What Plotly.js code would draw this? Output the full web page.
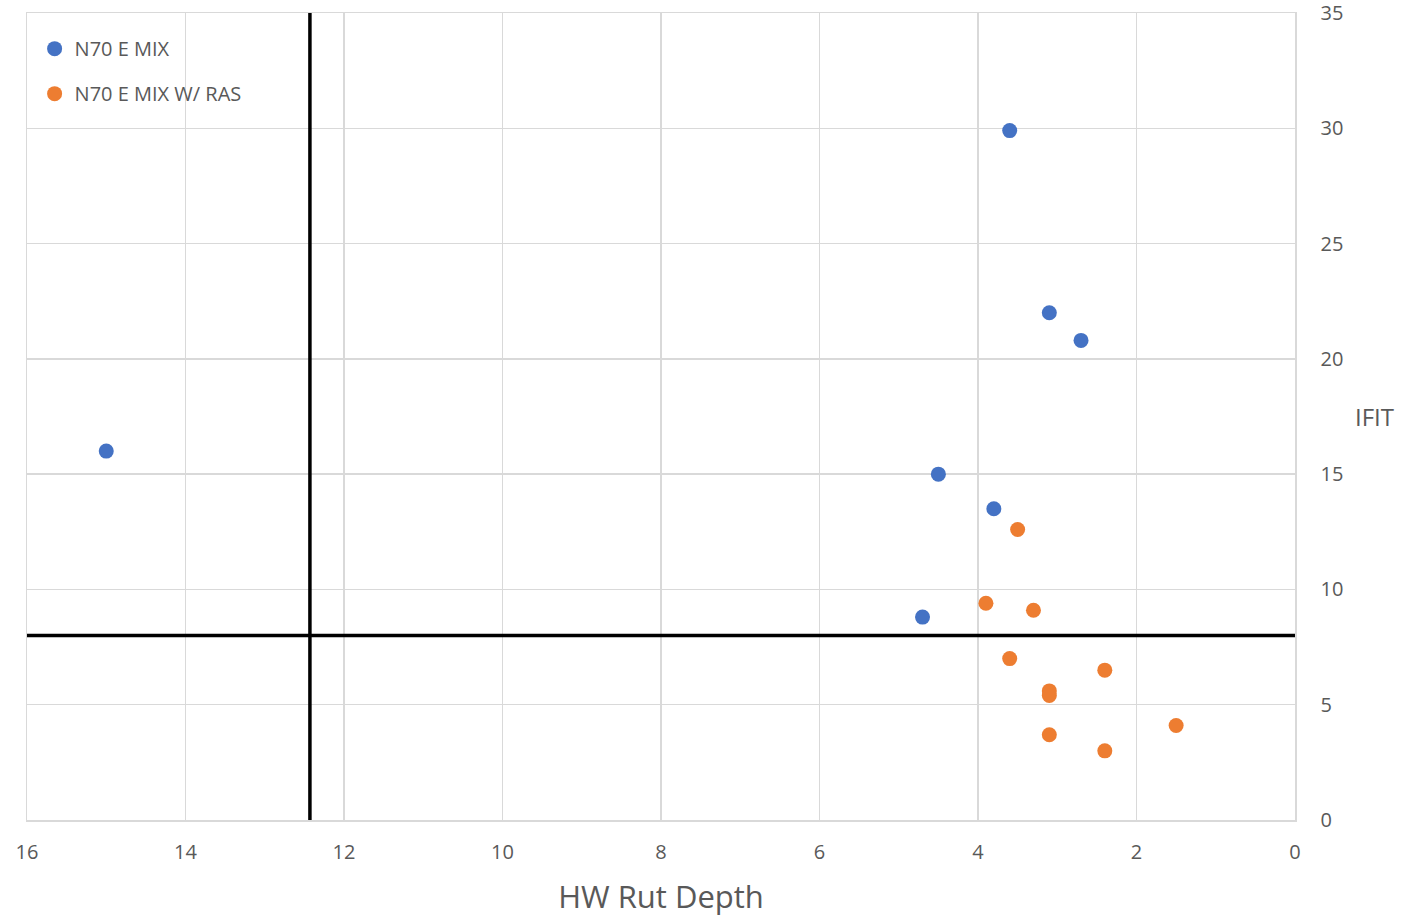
<!DOCTYPE html>
<html>
<head>
<meta charset="utf-8">
<script src="https://cdn.plot.ly/plotly-3.0.1.min.js"></script>
<style>html,body{margin:0;padding:0;background:#fff;}#chart{width:1404px;height:919px;}</style>
</head>
<body>
<div id="chart"></div>
<script>
var seriesNames = ["N70 E MIX", "N70 E MIX W/ RAS"];
var mixRut = [3.6, 3.1, 2.7, 15.0, 4.5, 3.8, 4.7];
var mixIfit = [29.9, 22.0, 20.8, 16.0, 15.0, 13.5, 8.8];
var rasRut = [3.5, 3.9, 3.3, 3.6, 2.4, 3.1, 3.1, 1.5, 3.1, 2.4];
var rasIfit = [12.6, 9.4, 9.1, 7.0, 6.5, 5.6, 5.4, 4.1, 3.7, 3.0];
var rutLimit = [12.43];
var ifitLimit = [8];
var xTicks = [16, 14, 12, 10, 8, 6, 4, 2, 0];
var yTicks = [0, 5, 10, 15, 20, 25, 30, 35];

var font = "Open Sans, Lato, sans-serif";
var grey = "#595959";

var traces = [
  {x: mixRut, y: mixIfit, name: seriesNames[0], legendgroup: "a", type: "scatter", mode: "markers",
   marker: {color: "#4472C4", size: 15}},
  {x: rasRut, y: rasIfit, name: seriesNames[1], legendgroup: "b", type: "scatter", mode: "markers",
   marker: {color: "#ED7D31", size: 15}}
];

var layout = {
  width: 1404, height: 919,
  margin: {l: 27, r: 109, t: 13, b: 99},
  paper_bgcolor: "#fff", plot_bgcolor: "#fff",
  font: {family: font, color: grey, size: 19},
  showlegend: true,
  legend: {x: 0.006, y: 0.98, xanchor: "left", yanchor: "top", bgcolor: "rgba(255,255,255,0)",
           font: {size: 20, color: grey}, tracegroupgap: 16, itemwidth: 30},
  xaxis: {range: [16, 0], autorange: false, tickvals: xTicks, ticktext: xTicks.map(String),
          showgrid: true, gridcolor: "#d9d9d9", gridwidth: 1.5, zeroline: false,
          showline: true, linecolor: "#d9d9d9", linewidth: 1.5, mirror: true,
          ticks: "", ticklabelstandoff: 13, ticklabeloverflow: "allow",
          tickfont: {size: 20, color: grey},
          title: {text: "HW Rut Depth", font: {size: 31, color: grey}, standoff: 23}},
  yaxis: {range: [0, 35], autorange: false, side: "right", tickvals: yTicks, ticktext: yTicks.map(String),
          showgrid: true, gridcolor: "#d9d9d9", gridwidth: 1.5, zeroline: false,
          showline: true, linecolor: "#d9d9d9", linewidth: 1.5, mirror: true,
          ticks: "", ticklabelstandoff: 20, ticklabeloverflow: "allow",
          tickfont: {size: 20, color: grey}},
  shapes: [
    {type: "line", xref: "x", yref: "paper", x0: rutLimit[0], x1: rutLimit[0], y0: 0, y1: 1,
     line: {color: "#000", width: 3.5}},
    {type: "line", xref: "paper", yref: "y", x0: 0, x1: 1, y0: ifitLimit[0], y1: ifitLimit[0],
     line: {color: "#000", width: 3.5}}
  ],
  annotations: [
    {text: "IFIT", xref: "paper", yref: "paper", x: 1.0, y: 0.5, xanchor: "left", yanchor: "middle",
     xshift: 58, yshift: 0, showarrow: false, font: {size: 24, color: grey}}
  ]
};

Plotly.newPlot("chart", traces, layout, {displayModeBar: false, staticPlot: true});
</script>
</body>
</html>
